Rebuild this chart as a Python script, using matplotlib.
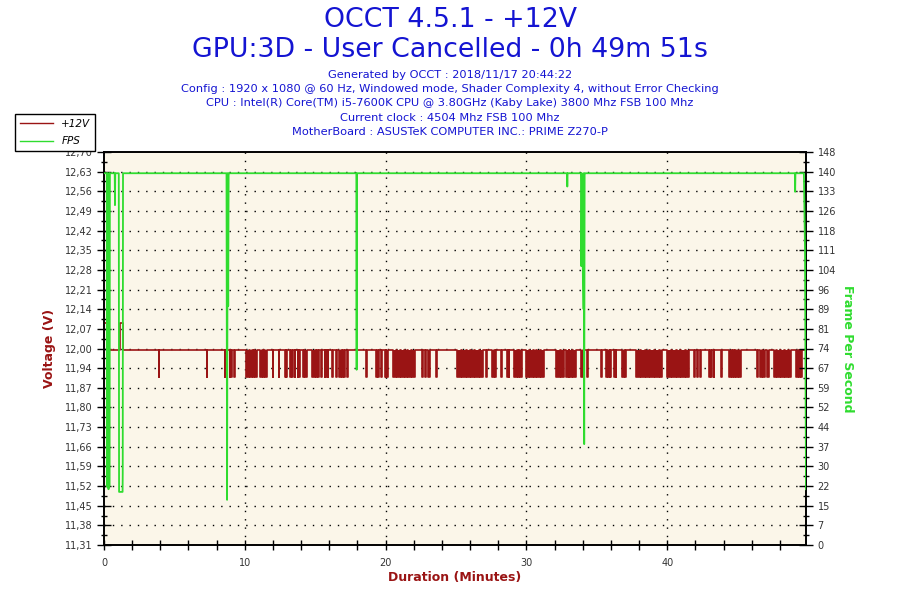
import matplotlib
matplotlib.use("Agg")
import matplotlib.pyplot as plt
from matplotlib.lines import Line2D

# ---- data ----
x_max = 49.85  # 0h 49m 51s

volt_base = 12.00
volt_low = 11.904
volt_high = 12.096
# short periods where the +12V reading jumped up
volt_highs = [(0.0, 0.22), (1.14, 1.35)]
# periods where +12V dipped to volt_low, (start, end) in minutes
volt_dips = [
    (3.88, 3.92), (7.28, 7.32), (8.56, 8.60), (8.92, 8.96), (9.05, 9.09), (9.20, 9.30),
    (10.05, 10.30), (10.36, 10.50), (10.55, 10.62), (10.70, 10.85), (11.05, 11.20),
    (11.28, 11.35), (11.45, 11.56), (11.98, 12.02), (12.40, 12.44), (12.82, 12.90),
    (12.94, 12.98), (13.18, 13.26), (13.32, 13.40), (13.54, 13.57), (13.75, 13.80),
    (13.86, 13.90), (14.10, 14.18), (14.30, 14.40), (14.80, 14.95), (15.02, 15.12),
    (15.20, 15.30), (15.38, 15.46), (15.66, 15.72), (15.78, 15.82), (15.88, 15.92),
    (16.22, 16.26), (16.50, 16.54), (16.72, 16.80), (16.88, 16.95), (17.05, 17.10),
    (17.28, 17.32), (18.63, 18.67), (19.35, 19.40), (19.46, 19.50), (19.70, 19.74),
    (19.92, 20.00), (20.06, 20.14), (20.50, 20.75), (20.82, 21.05), (21.10, 21.30),
    (21.38, 21.55), (21.62, 21.80), (21.88, 22.06), (22.55, 22.68), (22.78, 22.90),
    (23.00, 23.12), (23.60, 23.64), (25.10, 25.35), (25.42, 25.70), (25.75, 26.00),
    (26.08, 26.30), (26.38, 26.60), (26.68, 26.88), (27.15, 27.23), (27.58, 27.66),
    (27.78, 27.87), (28.21, 28.25), (28.64, 28.70), (28.75, 28.79), (29.14, 29.30),
    (29.40, 29.48), (29.56, 29.65), (30.00, 30.20), (30.28, 30.45), (30.52, 30.70),
    (30.78, 30.95), (31.05, 31.28), (32.12, 32.40), (32.48, 32.70), (32.78, 33.00),
    (33.05, 33.20), (33.28, 33.55), (33.88, 33.98), (34.05, 34.11), (34.31, 34.35),
    (35.30, 35.39), (35.66, 35.75), (35.82, 35.90), (35.96, 36.03), (36.23, 36.27),
    (36.34, 36.38), (36.80, 36.90), (37.00, 37.09), (37.80, 38.05), (38.12, 38.40),
    (38.48, 38.70), (38.78, 39.05), (39.12, 39.40), (39.48, 39.65), (40.00, 40.25),
    (40.32, 40.60), (40.68, 40.90), (40.98, 41.25), (41.32, 41.56), (41.90, 42.00),
    (42.10, 42.20), (42.32, 42.41), (42.97, 43.05), (43.12, 43.19), (43.31, 43.35),
    (43.81, 43.85), (44.40, 44.50), (44.58, 44.66), (44.74, 44.82), (44.90, 45.00),
    (45.10, 45.25), (46.37, 46.45), (46.55, 46.70), (46.80, 46.95), (47.05, 47.23),
    (47.58, 47.75), (47.82, 48.00), (48.08, 48.30), (48.38, 48.55), (48.62, 48.79),
    (49.14, 49.25), (49.35, 49.45), (49.50, 49.57),
]

fps_t = [0.00, 0.20, 0.22, 0.25, 0.27, 0.30, 0.32, 0.36, 0.38, 0.42,
         0.76, 0.78, 0.80, 1.05, 1.07, 1.32, 1.33, 1.35,
         8.70, 8.74, 8.78, 8.82, 8.85, 8.88,
         17.92, 17.94, 17.96,
         32.88, 32.90, 32.92,
         33.88, 33.90, 33.93, 34.03, 34.06, 34.10, 34.13, 34.17,
         49.06, 49.08, 49.10,
         49.70, 49.74, 49.78, 49.85]
fps_v = [140, 140, 22, 140, 40, 130, 21, 140, 22, 140,
         140, 128, 140, 140, 20, 20, 27, 140,
         140, 17, 140, 90, 140, 140,
         140, 66, 140,
         140, 135, 140,
         140, 105, 140, 89, 140, 38, 140, 140,
         140, 133, 140,
         140, 126, 111, 21]

volt_ticks = ["11,31", "11,38", "11,45", "11,52", "11,59", "11,66", "11,73",
              "11,80", "11,87", "11,94", "12,00", "12,07", "12,14", "12,21",
              "12,28", "12,35", "12,42", "12,49", "12,56", "12,63", "12,70"]
fps_ticks = ["0", "7", "15", "22", "30", "37", "44", "52", "59", "67", "74",
             "81", "89", "96", "104", "111", "118", "126", "133", "140", "148"]

title_lines = ["OCCT 4.5.1 - +12V", "GPU:3D - User Cancelled - 0h 49m 51s"]
info_lines = [
    "Generated by OCCT : 2018/11/17 20:44:22",
    "Config : 1920 x 1080 @ 60 Hz, Windowed mode, Shader Complexity 4, without Error Checking",
    "CPU : Intel(R) Core(TM) i5-7600K CPU @ 3.80GHz (Kaby Lake) 3800 Mhz FSB 100 Mhz",
    "Current clock : 4504 Mhz FSB 100 Mhz",
    "MotherBoard : ASUSTeK COMPUTER INC.: PRIME Z270-P",
]

RED = "#9a1414"
GREEN = "#2fdc2f"
BLUE = "#1414d2"

# step series for the voltage
events = [(s, e, volt_high) for s, e in volt_highs] + [(s, e, volt_low) for s, e in volt_dips]
events.sort()
volt_t, volt_v = [], []
for s, e, v in events:
    volt_t += [s, s, e, e]
    volt_v += [volt_base, v, v, volt_base]
    if s == 0.0:
        volt_v[0] = v
volt_t.append(x_max)
volt_v.append(volt_base)

plt.rcParams['font.family'] = ['DejaVu Sans']
fig = plt.figure(figsize=(9, 6), dpi=100)
ax = fig.add_axes([104 / 900, 1 - 545 / 600, 702 / 900, 393 / 600])
ax.set_facecolor("#fbf6e9")

vmin, vstep = 11.31, 0.0695
nt = len(volt_ticks)
ax.set_ylim(vmin, vmin + vstep * (nt - 1))
ax.set_yticks([vmin + vstep * i for i in range(nt)])
ax.set_yticklabels(volt_ticks)
ax.set_yticks([vmin + vstep * (i + 0.5) for i in range(nt - 1)], minor=True)
ax.set_xlim(0, x_max)
ax.set_xticks(range(0, 50, 2))
ax.set_xticklabels([str(v) if v % 10 == 0 else "" for v in range(0, 50, 2)])

ax.plot(volt_t, volt_v, color=RED, lw=1.2, zorder=3)
for s, e in volt_dips:
    ax.fill_between([s, e], volt_low, volt_base, color=RED, lw=0, zorder=3)

for y in ax.get_yticks()[1:-1]:
    ax.axhline(y, color="black", lw=1, ls=(0, (1, 5)), zorder=1)
for x in (10, 20, 30, 40):
    ax.axvline(x, color="black", lw=1, ls=(0, (1, 5)), zorder=1)

ax2 = ax.twinx()
fmax = 148
ax2.set_ylim(0, fmax)
ax2.set_yticks([fmax * i / (nt - 1) for i in range(nt)])
ax2.set_yticklabels(fps_ticks)
ax2.set_yticks([fmax * (i + 0.5) / (nt - 1) for i in range(nt - 1)], minor=True)
ax2.plot(fps_t, fps_v, color=GREEN, lw=1.3, zorder=4)

for a in (ax, ax2):
    a.tick_params(which="major", direction="inout", length=9.5, width=1,
                  labelsize=7, labelcolor="#333333")
    a.tick_params(which="minor", direction="inout", length=4.5, width=1)
    for sp in a.spines.values():
        sp.set_color("black")
        sp.set_linewidth(1.2)
ax.tick_params(axis="x", length=7, pad=6)

ax.set_ylabel("Voltage (V)", color=RED, fontsize=9, fontweight="bold", labelpad=6)
ax2.set_ylabel("Frame Per Second", color=GREEN, fontsize=9, fontweight="bold",
               rotation=270, labelpad=13)
ax.set_xlabel("Duration (Minutes)", color=RED, fontsize=9, fontweight="bold", labelpad=2)

fig.text(0.5, 1 - 20 / 600, title_lines[0], ha="center", va="center", fontsize=19.3, color=BLUE)
fig.text(0.5, 1 - 50 / 600, title_lines[1], ha="center", va="center", fontsize=19.3, color=BLUE)
for i, line in enumerate(info_lines):
    fig.text(0.5, 1 - (75 + 14.2 * i) / 600, line, ha="center", va="center",
             fontsize=8.2, color=BLUE)

handles = [Line2D([], [], color=RED, lw=1), Line2D([], [], color=GREEN, lw=1)]
leg = fig.legend(handles, ["+12V", "FPS"], loc="upper left",
                 bbox_to_anchor=(15 / 900, 1 - 114 / 600), frameon=True,
                 fancybox=False, framealpha=1, edgecolor="black",
                 prop={"size": 7.5, "style": "italic"}, handlelength=3.2,
                 borderpad=0.45, labelspacing=0.75, handletextpad=0.8,
                 borderaxespad=0)
leg.get_frame().set_linewidth(1)
leg.set_zorder(10)

fig.savefig("out.png", dpi=100)
